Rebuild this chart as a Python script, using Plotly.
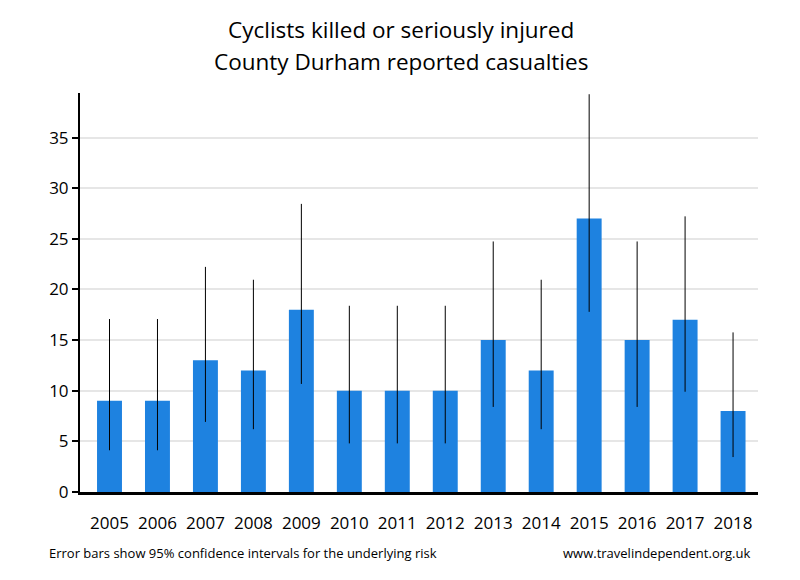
import plotly.graph_objects as go

years = ["2005","2006","2007","2008","2009","2010","2011","2012","2013","2014","2015","2016","2017","2018"]
casualties = [9, 9, 13, 12, 18, 10, 10, 10, 15, 12, 27, 15, 17, 8]
ci_lower = [4.12, 4.12, 6.92, 6.20, 10.67, 4.80, 4.80, 4.80, 8.40, 6.20, 17.79, 8.40, 9.90, 3.45]
ci_upper = [17.08, 17.08, 22.23, 20.96, 28.45, 18.39, 18.39, 18.39, 24.74, 20.96, 39.28, 24.74, 27.22, 15.76]
title_lines = ["Cyclists killed or seriously injured", "County Durham reported casualties"]

plus = [u - v for u, v in zip(ci_upper, casualties)]
minus = [v - l for v, l in zip(casualties, ci_lower)]

FONT = "Open Sans, Segoe UI, sans-serif"

fig = go.Figure()
fig.add_trace(go.Bar(
    x=list(range(len(years))), y=casualties,
    width=0.52,
    marker=dict(color="#1E82E0", line=dict(width=0)),
    error_y=dict(type="data", array=plus, arrayminus=minus, symmetric=False,
                 color="black", thickness=1, width=0),
    hoverinfo="skip",
))

fig.update_layout(
    width=800, height=580,
    paper_bgcolor="white", plot_bgcolor="white",
    margin=dict(l=80, r=42, t=93, b=88),
    showlegend=False,
    font=dict(family=FONT, color="black"),
    xaxis=dict(
        tickmode="array", tickvals=list(range(len(years))), ticktext=years,
        range=[-0.615, 13.52],
        showline=True, linecolor="black", linewidth=3,
        ticks="", showgrid=False, zeroline=False,
        tickfont=dict(size=17, family=FONT, color="black"),
        ticklabelstandoff=14,
    ),
    yaxis=dict(
        range=[0, 39.4],
        tickvals=[0, 5, 10, 15, 20, 25, 30, 35],
        showline=True, linecolor="black", linewidth=2,
        ticks="outside", ticklen=6, tickwidth=2, tickcolor="black",
        showgrid=True, gridcolor="#E6E6E6", gridwidth=2,
        zeroline=False,
        tickfont=dict(size=17, family=FONT, color="black"),
    ),
    annotations=[
        dict(text=title_lines[0], xref="paper", yref="paper", x=0.474, y=1.158,
             xanchor="center", yanchor="middle", showarrow=False,
             font=dict(size=22.5, family=FONT, color="black")),
        dict(text=title_lines[1], xref="paper", yref="paper", x=0.474, y=1.078,
             xanchor="center", yanchor="middle", showarrow=False,
             font=dict(size=22.5, family=FONT, color="black")),
        dict(text="Error bars show 95% confidence intervals for the underlying risk",
             xref="paper", yref="paper", x=-0.049, y=-0.153, xanchor="left", yanchor="middle",
             showarrow=False, font=dict(size=13, family=FONT, color="black")),
        dict(text="www.travelindependent.org.uk",
             xref="paper", yref="paper", x=0.991, y=-0.153, xanchor="right", yanchor="middle",
             showarrow=False, font=dict(size=13, family=FONT, color="black")),
    ],
)

fig.write_html("out.html", config={"displayModeBar": False},
               post_script="document.body.style.margin='0';document.body.style.padding='0';")
